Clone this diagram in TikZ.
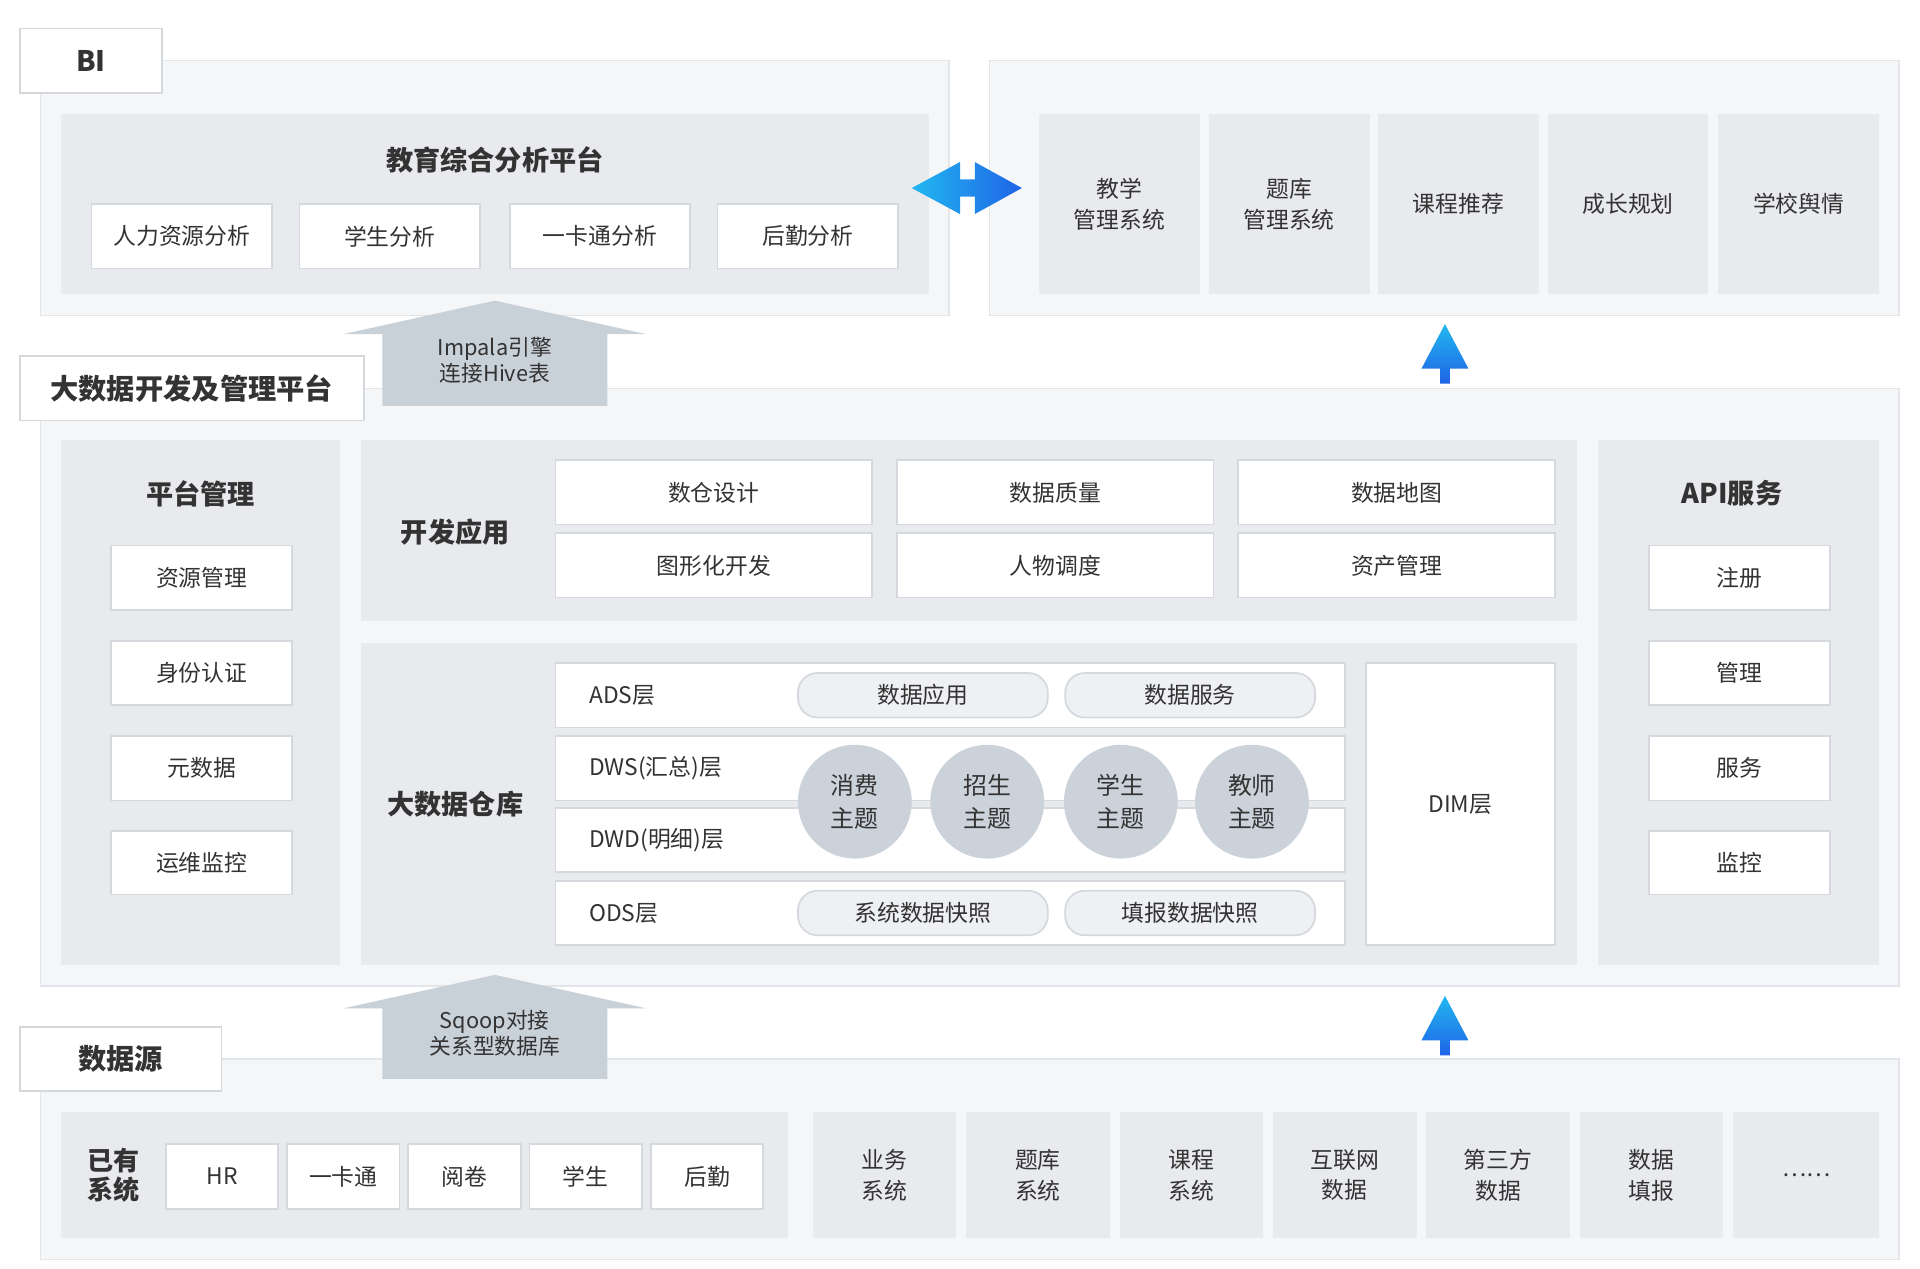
\documentclass[tikz,border=0pt]{standalone}
\usepackage{fontspec}
\setmainfont{Noto Sans CJK SC}
\usetikzlibrary{positioning}

\definecolor{outerbg}{HTML}{F5F6F8}
\definecolor{outerln}{HTML}{E2E5E9}
\definecolor{innerbg}{HTML}{E8EAED}
\definecolor{boxln}{HTML}{D5D9DE}
\definecolor{circbg}{HTML}{CBD2DA}
\definecolor{pillbg}{HTML}{EEF0F3}
\definecolor{bigarr}{HTML}{C8D0D8}
\definecolor{txt}{HTML}{333333}
\definecolor{blueA}{HTML}{22B8F0}
\definecolor{blueB}{HTML}{1F63E6}

\tikzset{
  outer/.style={fill=outerbg,draw=outerln,line width=0.6pt},
  inner/.style={fill=innerbg,draw=none},
  wbox/.style={fill=white,draw=boxln,line width=0.8pt},
  gcol/.style={fill=innerbg,draw=none,align=center},
  tab/.style={fill=white,draw=boxln,line width=0.8pt,font=\fontsize{13}{15}\selectfont\bfseries},
  pill/.style={fill=pillbg,draw=boxln,line width=0.8pt,rounded corners=9pt},
  topic/.style={circle,fill=circbg,minimum size=92*0.02cm,inner sep=0pt,align=center,font=\fontsize{11}{15}\selectfont},
  ttl/.style={font=\fontsize{12.5}{15}\selectfont\bfseries},
  bigup/.style={fill=bigarr,draw=none},
  blueup/.style={top color=blueA,bottom color=blueB,draw=none},
}
% px box: name, style, x1, y1, x2, y2, text
\newcommand{\pbox}[7]{%
  \node[#2,inner sep=0pt,minimum width={(#5-#3)*0.02cm},minimum height={(#6-#4)*0.02cm}]
    (#1) at ({(#3+#5)/2},{(#4+#6)/2}) {#7};}

\begin{document}
\begin{tikzpicture}[x=0.02cm,y=-0.02cm,font=\fontsize{10.5}{14}\selectfont,text=txt]
\useasboundingbox[fill=white] (0,0) rectangle (1552,1025);

%%%% BI ===========================================
\pbox{biouter}{outer}{33}{49}{767}{255}{}
\pbox{biin}{inner}{49}{92}{751}{238}{}
\node[ttl] (bititle) at (400,129) {教育综合分析平台};
\pbox{bi1}{wbox}{74}{165}{220}{217}{人力资源分析}
\pbox{bi2}{wbox}{242}{165}{388}{217}{学生分析}
\pbox{bi3}{wbox}{412}{165}{558}{217}{一卡通分析}
\pbox{bi4}{wbox}{580}{165}{726}{217}{后勤分析}
\pbox{bitab}{tab}{16}{23}{131}{75}{BI}

% applications
\pbox{apouter}{outer}{800}{49}{1535}{255}{}
\pbox{ap1}{gcol}{840}{92}{970}{238}{教学\\管理系统}
\pbox{ap2}{gcol}{977}{92}{1107}{238}{题库\\管理系统}
\pbox{ap3}{gcol}{1114}{92}{1244}{238}{课程推荐}
\pbox{ap4}{gcol}{1251}{92}{1381}{238}{成长规划}
\pbox{ap5}{gcol}{1389}{92}{1519}{238}{学校舆情}

% double arrow
\path[left color=blueA,right color=blueB] (737,152) -- (776,131) -- (776,145) -- (788,145)
  -- (788,131) -- (826,152) -- (788,173) -- (788,159) -- (776,159) -- (776,173) -- cycle;

%%%% Platform =====================================
\pbox{plouter}{outer}{33}{314}{1535}{797}{}
\pbox{pltab}{tab}{16}{288}{294}{340}{大数据开发及管理平台}

% Impala arrow
\path[bigup] (400,243) -- (522,270) -- (491,270) -- (491,328) -- (309,328) -- (309,270) -- (278,270) -- cycle;
\node[align=center,font=\fontsize{10}{12}\selectfont] (impala) at (400,291) {Impala引擎\\连接Hive表};
\path[blueup] (1168,262) -- (1187,298) -- (1172,298) -- (1172,310) -- (1164,310) -- (1164,298) -- (1149,298) -- cycle;

% platform management
\pbox{pm}{inner}{49}{356}{275}{780}{}
\node[ttl] (pmtitle) at (162,399) {平台管理};
\pbox{pm1}{wbox}{90}{441}{236}{493}{资源管理}
\pbox{pm2}{wbox}{90}{518}{236}{570}{身份认证}
\pbox{pm3}{wbox}{90}{595}{236}{647}{元数据}
\pbox{pm4}{wbox}{90}{672}{236}{723}{运维监控}

% development
\pbox{dev}{inner}{292}{356}{1275}{502}{}
\node[ttl] (devtitle) at (368,430) {开发应用};
\pbox{dv1}{wbox}{449}{372}{705}{424}{数仓设计}
\pbox{dv2}{wbox}{725}{372}{981}{424}{数据质量}
\pbox{dv3}{wbox}{1001}{372}{1257}{424}{数据地图}
\pbox{dv4}{wbox}{449}{431}{705}{483}{图形化开发}
\pbox{dv5}{wbox}{725}{431}{981}{483}{人物调度}
\pbox{dv6}{wbox}{1001}{431}{1257}{483}{资产管理}

% warehouse
\pbox{dw}{inner}{292}{520}{1275}{780}{}
\node[ttl] (dwtitle) at (368,650) {大数据仓库};
\pbox{ads}{wbox}{449}{536}{1087}{588}{}
\pbox{dws}{wbox}{449}{595}{1087}{647}{}
\pbox{dwd}{wbox}{449}{653}{1087}{705}{}
\pbox{ods}{wbox}{449}{712}{1087}{764}{}
\node[anchor=west] (adsl) at (470,562) {ADS层};
\node[anchor=west] (dwsl) at (470,621) {DWS(汇总)层};
\node[anchor=west] (dwdl) at (470,679) {DWD(明细)层};
\node[anchor=west] (odsl) at (470,738) {ODS层};
\pbox{ads1}{pill}{645}{544}{847}{580}{数据应用}
\pbox{ads2}{pill}{861}{544}{1063}{580}{数据服务}
\pbox{ods1}{pill}{645}{720}{847}{756}{系统数据快照}
\pbox{ods2}{pill}{861}{720}{1063}{756}{填报数据快照}
\node[topic] (tp1) at (691,648) {消费\\主题};
\node[topic] (tp2) at (798,648) {招生\\主题};
\node[topic] (tp3) at (906,648) {学生\\主题};
\node[topic] (tp4) at (1012,648) {教师\\主题};
\pbox{dim}{wbox}{1104}{536}{1257}{764}{DIM层}

% API
\pbox{api}{inner}{1292}{356}{1519}{780}{}
\node[ttl] (apititle) at (1400,399) {API服务};
\pbox{api1}{wbox}{1333}{441}{1479}{493}{注册}
\pbox{api2}{wbox}{1333}{518}{1479}{570}{管理}
\pbox{api3}{wbox}{1333}{595}{1479}{647}{服务}
\pbox{api4}{wbox}{1333}{672}{1479}{723}{监控}

%%%% Data sources =================================
\pbox{dsouter}{outer}{33}{856}{1535}{1018}{}
\pbox{dstab}{tab}{16}{830}{179}{882}{数据源}

% Sqoop arrow
\path[bigup] (400,788) -- (522,815) -- (491,815) -- (491,872) -- (309,872) -- (309,815) -- (278,815) -- cycle;
\node[align=center,font=\fontsize{10}{12}\selectfont] (sqoop) at (400,835) {Sqoop对接\\关系型数据库};
\path[blueup] (1168,805) -- (1187,841) -- (1172,841) -- (1172,853) -- (1164,853) -- (1164,841) -- (1149,841) -- cycle;

\pbox{ex}{inner}{49}{899}{637}{1001}{}
\node[ttl,align=left,font=\fontsize{12}{13}\selectfont\bfseries] (extitle) at (92,950) {已有\\系统};
\pbox{ex1}{wbox}{134}{925}{225}{977}{HR}
\pbox{ex2}{wbox}{232}{925}{323}{977}{一卡通}
\pbox{ex3}{wbox}{330}{925}{421}{977}{阅卷}
\pbox{ex4}{wbox}{428}{925}{519}{977}{学生}
\pbox{ex5}{wbox}{526}{925}{617}{977}{后勤}
\pbox{ds1}{gcol}{657}{899}{773}{1001}{业务\\系统}
\pbox{ds2}{gcol}{781}{899}{897}{1001}{题库\\系统}
\pbox{ds3}{gcol}{905}{899}{1021}{1001}{课程\\系统}
\pbox{ds4}{gcol}{1029}{899}{1145}{1001}{互联网\\数据}
\pbox{ds5}{gcol}{1153}{899}{1269}{1001}{第三方\\数据}
\pbox{ds6}{gcol}{1277}{899}{1393}{1001}{数据\\填报}
\pbox{ds7}{gcol}{1401}{899}{1519}{1001}{……}
\end{tikzpicture}
\end{document}
